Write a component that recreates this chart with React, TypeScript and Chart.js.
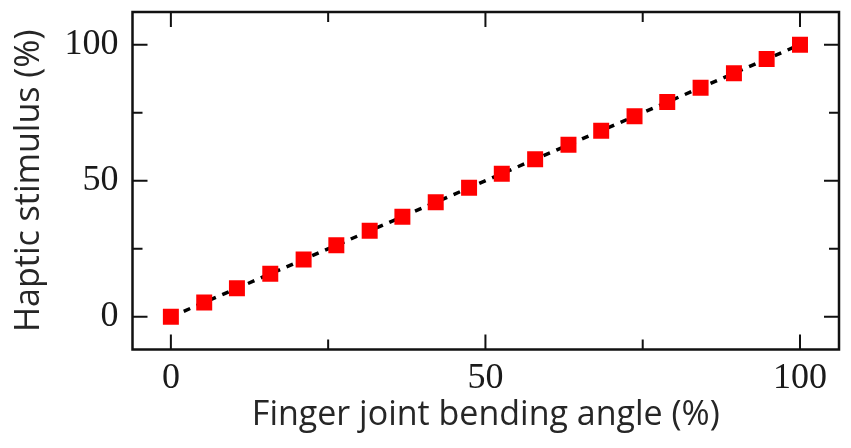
import React, { useEffect, useRef } from "react";
import { Chart, registerables } from "chart.js";

Chart.register(...registerables);

const bendingAngle = [0, 5.3, 10.5, 15.8, 21.1, 26.3, 31.6, 36.8, 42.1, 47.4, 52.6, 57.9, 63.2, 68.4, 73.7, 78.9, 84.2, 89.5, 94.7, 100];
const hapticStimulus = [0, 5.3, 10.5, 15.8, 21.1, 26.3, 31.6, 36.8, 42.1, 47.4, 52.6, 57.9, 63.2, 68.4, 73.7, 78.9, 84.2, 89.5, 94.7, 100];
const majorTicks = [0, 50, 100];
const minorTicks = [25, 75];
const xTitle = "Finger joint bending angle (%)";
const yTitle = "Haptic stimulus (%)";

const frameTicks = {
  id: "frameTicks",
  afterDatasetsDraw(chart: any) {
    const { ctx, chartArea: a, scales } = chart;
    const xs = scales.x;
    const ys = scales.y;
    ctx.save();
    ctx.strokeStyle = "#111";
    ctx.lineCap = "butt";
    const all = [...majorTicks.map((v) => [v, 15]), ...minorTicks.map((v) => [v, 10])];
    ctx.lineWidth = 2;
    for (const [v, len] of all) {
      const px = xs.getPixelForValue(v);
      ctx.beginPath();
      ctx.moveTo(px, a.bottom);
      ctx.lineTo(px, a.bottom - len);
      ctx.moveTo(px, a.top);
      ctx.lineTo(px, a.top + len);
      ctx.stroke();
      const py = ys.getPixelForValue(v);
      ctx.beginPath();
      ctx.moveTo(a.left, py);
      ctx.lineTo(a.left + len, py);
      ctx.moveTo(a.right, py);
      ctx.lineTo(a.right - len, py);
      ctx.stroke();
    }
    ctx.lineWidth = 2.5;
    ctx.strokeRect(a.left, a.top, a.right - a.left, a.bottom - a.top);
    ctx.restore();
  },
};

export default function App() {
  const ref = useRef<HTMLCanvasElement>(null);
  useEffect(() => {
    const chart = new Chart(ref.current!, {
      type: "line",
      data: {
        datasets: [
          {
            data: bendingAngle.map((x, i) => ({ x, y: hapticStimulus[i] })),
            borderColor: "#000",
            borderWidth: 3.5,
            borderDash: [7, 7],
            pointStyle: "rect",
            pointRadius: 11.3,
            pointBackgroundColor: "#ff0000",
            pointBorderWidth: 0,
            pointBorderColor: "#ff0000",
            tension: 0,
          },
        ],
      },
      options: {
        animation: false,
        responsive: false,
        maintainAspectRatio: false,
        layout: { padding: { top: 12, right: 12, left: 0, bottom: 0 } },
        plugins: { legend: { display: false }, tooltip: { enabled: false } },
        scales: {
          x: {
            type: "linear",
            min: -6.1,
            max: 106.2,
            afterBuildTicks: (s: any) => {
              s.ticks = majorTicks.map((value) => ({ value }));
            },
            afterFit: (s: any) => {
              s.height = 98.5;
              s.paddingLeft = 0;
              s.paddingRight = 0;
            },
            grid: { display: false, drawTicks: false },
            border: { display: false },
            ticks: {
              padding: 7,
              color: "#1a1a1a",
              font: { family: "'Liberation Serif', 'Times New Roman', serif", size: 36 },
            },
            title: {
              display: true,
              text: xTitle,
              color: "#262626",
              padding: { top: 12, bottom: 12 },
              font: { family: "'Open Sans', sans-serif", size: 34 },
            },
          },
          y: {
            type: "linear",
            min: -12,
            max: 112,
            afterBuildTicks: (s: any) => {
              s.ticks = majorTicks.map((value) => ({ value }));
            },
            afterFit: (s: any) => {
              s.width = 132.5;
              s.paddingTop = 0;
              s.paddingBottom = 0;
            },
            grid: { display: false, drawTicks: false },
            border: { display: false },
            ticks: {
              padding: 14,
              color: "#1a1a1a",
              font: { family: "'Liberation Serif', 'Times New Roman', serif", size: 36 },
            },
            title: {
              display: true,
              text: yTitle,
              color: "#262626",
              padding: { top: 9, bottom: 9 },
              font: { family: "'Open Sans', sans-serif", size: 34 },
            },
          },
        },
      },
      plugins: [frameTicks],
    });
    return () => chart.destroy();
  }, []);
  return (
    <div style={{ position: "fixed", left: 0, top: 0, width: 851, height: 448, background: "#fff" }}>
      <canvas ref={ref} width={851} height={448} style={{ display: "block" }} />
    </div>
  );
}
